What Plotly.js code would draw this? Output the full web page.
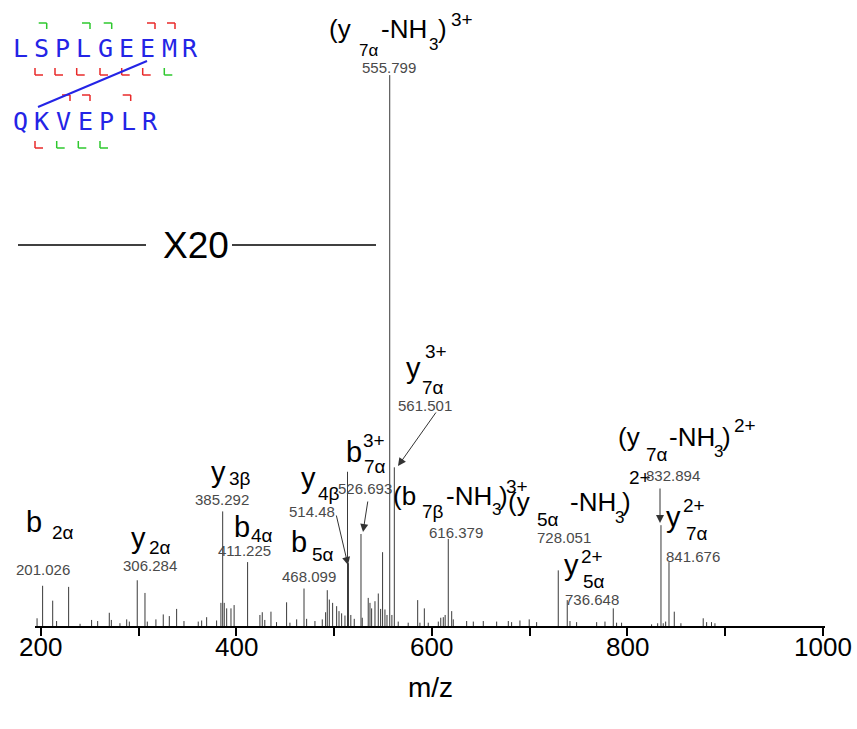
<!DOCTYPE html>
<html>
<head>
<meta charset="utf-8">
<script src="https://cdn.plot.ly/plotly-3.0.1.min.js"></script>
<style>html,body{margin:0;padding:0;background:#fff;}#chart{width:857px;height:729px;}</style>
</head>
<body>
<div id="chart"></div>
<script>
// ---- data ----
const peakMz = [196,201.7,212,216,228.3,240,251.8,258,269.9,272,280.8,287.7,290.4,298.5,306.4,308.8,317.6,325.1,331.3,338.8,346.3,360.9,364.4,369.5,379.7,384.1,385.9,387.5,390,394.4,397.6,411.4,424,426.4,429,435.3,441,451.3,454.7,461.6,469.1,471.8,480.3,487.8,491.2,492.9,495,498.4,502.5,504.9,507.6,511,513.6,514.6,517,520.5,527.4,528.7,534.8,536.6,538.3,541.7,545.1,547.5,549.5,551.9,554,556.8,559,561.5,565.5,575.7,585.4,587.7,592.2,596.2,606.5,609,611.6,613.5,616.7,620.2,621.8,635.5,642.3,652.5,666.2,678.1,681.5,690,699.5,707.1,729.2,738.4,741.2,748,768.5,777,785.5,788.9,794,824.7,830.9,834.3,836.6,839.1,842.5,847.9,854.7,877.5,881,886,889.5];
const peakIntensity = [1.4,7.3,4.6,0.9,7.1,0.4,1.1,0.9,2.4,1.1,0.5,1.2,0.8,8.3,6.0,0.8,1.2,2.1,1.8,3.1,0.9,0.8,1.0,1.6,1.0,4.2,20.8,4.2,3.2,3.2,3.8,11.6,2.0,2.5,1.1,2.6,0.7,4.3,0.6,1.2,6.8,1.3,0.9,1.2,2.5,6.5,4.8,4.2,3.6,2.7,2.3,1.9,28.0,11.4,2.0,1.3,16.7,1.5,5.1,4.2,3.2,4.5,5.9,3.1,13.4,3.0,2.0,100,2.0,28.8,0.8,0.6,4.7,0.6,3.2,0.6,0.8,1.5,1.6,2.0,15.8,2.7,1.2,0.9,0.8,0.9,0.8,0.9,0.7,1.0,1.2,0.7,10.1,4.7,0.9,0.7,0.7,0.8,3.2,0.6,0.6,0.3,0.5,18.3,0.5,0.8,11.6,2.6,0.5,1.4,0.7,0.7,0.5];
const tickValues = [200,300,400,500,600,700,800,900,1000];
const tickLabels = ['200','','400','','600','','800','','1000'];
const massLabels = ['555.799','561.501','526.693','514.48','468.099','616.379','728.051','736.648','832.894','841.676','201.026','306.284','385.292','411.225'];
const peptideAlpha = 'LSPLGEEMR';
const peptideBeta = 'QKVEPLR';
const xTitle = 'm/z';

// ---- geometry helpers ----
const W = 857, H = 729;
const M = {l:35, r:32, t:20, b:103};
const pw = W - M.l - M.r, ph = H - M.t - M.b;
const X = p => (p - M.l) / pw;
const Y = p => (H - M.b - p) / ph;
const FONT = 'Liberation Sans, Arial, sans-serif';

// sticks
const sx = [], sy = [];
peakMz.forEach((m, i) => { sx.push(m, m, null); sy.push(0, peakIntensity[i], null); });

const ann = [];
// text piece: left edge x, baseline y
function lab(text, lx, base, size, color) {
  ann.push({xref:'paper', yref:'paper', x:X(lx), y:Y(base - 0.35*size), text:text,
    showarrow:false, xanchor:'left', yanchor:'middle', borderpad:0,
    font:{family:FONT, size:size, color:color || '#000'}});
}
const NS = 15, NC = '#4a4a4a';
function num(text, cx, base) {
  ann.push({xref:'paper', yref:'paper', x:X(cx), y:Y(base - 0.35*NS), text:text,
    showarrow:false, xanchor:'center', yanchor:'middle', borderpad:0,
    font:{family:FONT, size:NS, color:NC}});
}
const LS = 29, PS = 26, SS = 19, S3 = 17;
// (y7a-NH3)3+
lab('(y', 328, 38, PS); lab('7α', 358, 56, S3); lab('-NH', 380, 38, PS); lab('3', 428, 50, S3); lab(')', 437, 38, PS); lab('3+', 450, 26, 19);
num(massLabels[0], 389, 73);
// y7a 3+
lab('y', 405, 378, LS); lab('3+', 424, 358, SS); lab('7α', 421, 394, SS); num(massLabels[1], 425, 411);
// b7a 3+
lab('b', 345, 462, LS); lab('3+', 362, 447, SS); lab('7α', 363, 473, SS); num(massLabels[2], 365, 494);
// y4b
lab('y', 300, 488, LS); lab('4β', 317, 500, SS); num(massLabels[3], 312, 517);
// b5a
lab('b', 290, 552, LS); lab('5α', 311, 561, SS); num(massLabels[4], 309, 582);
// (b7b-NH3)3+
lab('(b', 392, 505, PS); lab('7β', 421, 518, SS); lab('-NH', 445, 505, PS); lab('3', 491, 515, S3); lab(')', 498, 505, PS); lab('3+', 505, 493, SS);
num(massLabels[5], 456, 538);
// (y5a-NH3)2+
lab('(y', 507, 511, PS); lab('5α', 536, 526, SS); lab('-NH', 569, 511, PS); lab('3', 614, 523, S3); lab(')', 621, 511, PS); lab('2+', 628, 484, SS);
num(massLabels[6], 564, 543);
// y5a 2+
lab('y', 563, 575, LS); lab('2+', 580, 563, SS); lab('5α', 582, 588, SS); num(massLabels[7], 592, 605);
// (y7a-NH3)2+
lab('(y', 617, 446, PS); lab('7α', 645, 461, SS); lab('-NH', 668, 446, PS); lab('3', 713, 457, S3); lab(')', 721, 446, PS); lab('2+', 733, 432, SS);
num(massLabels[8], 673, 481);
// y7a 2+
lab('y', 665, 527, LS); lab('2+', 682, 512, SS); lab('7α', 685, 540, SS); num(massLabels[9], 693, 562);
// b2a, y2a, y3b, b4a
lab('b', 25, 532, LS); lab('2α', 51, 539, SS); num(massLabels[10], 43, 575);
lab('y', 130, 548, LS); lab('2α', 148, 554, SS); num(massLabels[11], 150, 571);
lab('y', 210, 482, LS); lab('3β', 228, 485, SS); num(massLabels[12], 222, 505);
lab('b', 233, 537, LS); lab('4α', 250, 542, SS); num(massLabels[13], 244, 556);
// X20
lab('X20', 162, 258, 37);

// tick labels and axis title drawn through the x scale
tickValues.forEach((v, i) => {
  if (tickLabels[i]) ann.push({xref:'x', yref:'paper', x:v, y:Y(647), text:tickLabels[i], showarrow:false,
    xanchor:'center', yanchor:'middle', borderpad:0, font:{family:FONT, size:26, color:'#000'}});
});
ann.push({xref:'paper', yref:'paper', x:X(430), y:Y(687), text:xTitle, showarrow:false, xanchor:'center', yanchor:'middle',
  font:{family:FONT, size:28, color:'#000'}});

// arrows
function arrow(tx, ty, hx, hy) {
  ann.push({xref:'paper', yref:'paper', x:X(hx), y:Y(hy), ax:tx-hx, ay:ty-hy, text:'',
    showarrow:true, arrowhead:2, arrowsize:1.6, arrowwidth:1, arrowcolor:'#333', standoff:0, startstandoff:0});
}
arrow(437, 411, 398, 466);
arrow(368, 500, 363, 532);
arrow(336, 514, 348, 565);
arrow(660, 487, 660, 523);

// peptide diagram
const BLUE = '#2424e6', RED = '#e82a2a', GREEN = '#2ec82e';
const PF = 'DejaVu Sans Mono, monospace';
function pep(seq, x0, step, base) {
  for (let i = 0; i < seq.length; i++) {
    ann.push({xref:'paper', yref:'paper', x:X(x0 + i*step), y:Y(base - 0.35*25), text:seq[i], showarrow:false,
      xanchor:'center', yanchor:'middle', font:{family:PF, size:25, color:BLUE}});
  }
}
pep(peptideAlpha, 20, 21.3, 57);
pep(peptideBeta, 20, 21.7, 130);

const shapes = [];
function seg(x1, y1, x2, y2, color, w) {
  shapes.push({type:'line', xref:'paper', yref:'paper', x0:X(x1), y0:Y(y1), x1:X(x2), y1:Y(y2), line:{color:color, width:w||1}});
}
function topMark(xr, yt, color) { seg(xr-8, yt, xr, yt, color, 1.5); seg(xr, yt, xr, yt+6, color, 1.5); }
function botMark(xl, yb, color) { seg(xl, yb-7, xl, yb, color, 1.5); seg(xl, yb, xl+8, yb, color, 1.5); }
[[46.7,GREEN],[90,GREEN],[111.7,GREEN],[155,RED],[175,RED]].forEach(d => topMark(d[0], 23, d[1]));
[[35,RED],[55,RED],[76.7,RED],[100,RED],[121.7,RED],[142.7,RED],[164.3,GREEN]].forEach(d => botMark(d[0], 75, d[1]));
[[70,RED],[90,RED],[130.7,RED]].forEach(d => topMark(d[0], 95, d[1]));
[[35,RED],[56.7,GREEN],[78.3,GREEN],[100,GREEN]].forEach(d => botMark(d[0], 148, d[1]));
seg(147, 61, 38, 107, BLUE, 2);
// X20 lines
seg(18, 245, 146, 245, '#000', 1.3);
seg(232, 245, 376, 245, '#000', 1.3);

const data = [{x:sx, y:sy, type:'scatter', mode:'lines', line:{color:'#3a3a3a', width:1}, hoverinfo:'skip', showlegend:false}];

const layout = {
  width:W, height:H, margin:M, paper_bgcolor:'#fff', plot_bgcolor:'#fff', showlegend:false,
  xaxis:{range:[193.9, 1002.1], showline:true, linecolor:'#000', linewidth:2, ticks:'outside', ticklen:8, tickwidth:2,
    tickcolor:'#000', tickvals:tickValues, showticklabels:false, showgrid:false, zeroline:false},
  yaxis:{range:[0,110], visible:false, showgrid:false, zeroline:false},
  annotations:ann, shapes:shapes
};
Plotly.newPlot('chart', data, layout, {staticPlot:true});
</script>
</body>
</html>
